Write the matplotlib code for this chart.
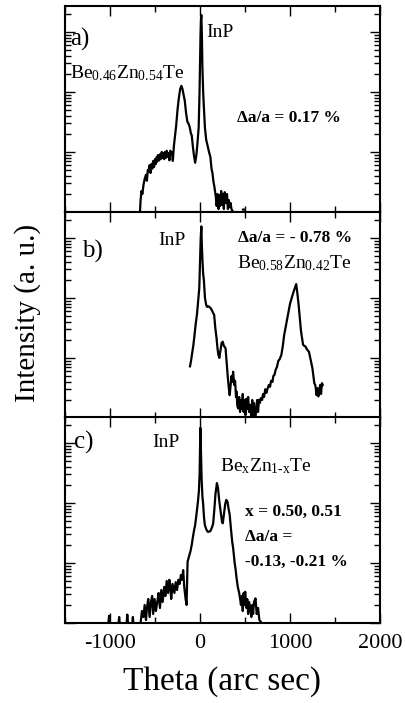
"""
plot.py
-------
Triple-axis X-ray rocking curves of BeZnTe layers on InP (log intensity).
"""

import numpy as np
import matplotlib
matplotlib.use("Agg")
import matplotlib.pyplot as plt
from matplotlib.ticker import LogLocator, MultipleLocator, NullFormatter

plt.rcParams["font.family"] = ["Liberation Serif", "DejaVu Serif"]
plt.rcParams["mathtext.fontset"] = "custom"
plt.rcParams["mathtext.rm"] = "Liberation Serif"
plt.rcParams["mathtext.it"] = "Liberation Serif"
plt.rcParams["axes.unicode_minus"] = False

# ---- panel a) : Be0.46Zn0.54Te ----
a_theta = [-667, -660, -650, -640, -628, -615, -600, -590, -580, -571, -560, -550,
           -540, -530, -520, -510, -500, -490, -480, -475, -465, -455, -445, -435,
           -425, -415, -405, -398, -390, -380, -370, -360, -350, -340, -330, -322,
           -312, -302, -290, -275, -264, -250, -235, -220, -207, -195, -182, -169,
           -155, -140, -130, -115, -100, -92, -80, -68, -54, -40, -28, -15, -5, 5,
           10, 15, 20, 27, 35, 43, 55, 69, 85, 100, 115, 128, 138, 150, 160, 176,
           185, 195, 205, 215, 225, 235, 245, 255, 265, 275, 291, 300, 310, 320,
           330, 340, 349, 360, 368, np.nan, 478, 488]
a_logI = [0.0, 0.2, 0.35, 0.3, 0.45, 0.55, 0.62, 0.52, 0.7, 0.68, 0.78, 0.65,
          0.8, 0.72, 0.85, 0.75, 0.88, 0.8, 0.92, 0.84, 0.95, 0.86, 0.96, 0.88,
          1.0, 0.9, 0.98, 0.88, 1.0, 0.9, 1.02, 0.92, 0.98, 0.86, 1.02, 0.95,
          1.0, 0.85, 1.1, 1.3, 1.45, 1.7, 1.9, 2.05, 2.1, 2.05, 1.95, 1.85,
          1.65, 1.5, 1.48, 1.42, 1.3, 1.28, 1.1, 0.95, 0.82, 0.95, 1.15, 1.4, 2.0, 2.9,
          3.2, 3.28, 3.0, 2.4, 2.0, 1.75, 1.4, 1.2, 1.1, 1.0, 0.92, 0.72, 0.65, 0.5, 0.42, 0.25,
          0.1, 0.3, 0.05, 0.28, 0.1, 0.35, 0.12, 0.3, 0.05, 0.33, 0.15, 0.3, 0.05, 0.2,
          0.08, 0.15, 0.05, 0.02, 0.0, np.nan, 0.04, 0.04]

# ---- panel b) : Be0.58Zn0.42Te ----
b_theta = [-111, -100, -90, -73, -60, -45, -34, -20, -8, 0, 8, 15, 20, 28, 35, 43,
           55, 69, 80, 95, 110, 118, 130, 145, 157, 170, 184, 195, 205, 215, 225,
           240, 253, 265, 276, 284, 292, 300, 310, 320, 330, 340, 350, 360, 368,
           380, 390, 400, 406, 415, 425, 435, 445, 455, 465, 475, 485, 495, 505,
           515, 525, 535, 545, 560, 570, 580, 590, 600, 610, 617, 625, 635, 645,
           655, 665, 675, 690, 700, 712, 725, 738, 751, 765, 778, 790, 805, 815,
           828, 840, 855, 870, 885, 904, 920, 935, 950, 962, 980, 1000, 1019, 1035,
           1050, 1062, 1069, 1080, 1096, 1110, 1122, 1134, 1145, 1160, 1172, 1185,
           1200, 1211, 1225, 1238, 1249, 1260, 1270, 1280, 1287, 1295, 1305, 1315,
           1326, 1335, 1345, 1355, 1364]
b_logI = [0.86, 0.95, 1.05, 1.22, 1.4, 1.6, 1.72, 1.95, 2.16, 2.6, 3.0, 3.19, 2.9, 2.6, 2.4, 2.3,
          2.0, 1.88, 1.85, 1.86, 1.84, 1.83, 1.8, 1.75, 1.72, 1.5, 1.33, 1.15, 1.05, 1.0, 1.1,
          1.25, 1.27, 1.2, 1.18, 1.16, 1.0, 0.85, 0.66, 0.5, 0.38, 0.55, 0.7, 0.6, 0.77,
          0.55, 0.62, 0.35, 0.44, 0.2, 0.16, 0.35, 0.1, 0.3, 0.15, 0.4, 0.1, 0.3, 0.05,
          0.32, 0.15, 0.35, 0.1, 0.22, 0.0, 0.3, 0.05, 0.25, 0.0, 0.02, 0.15, 0.3, 0.1,
          0.3, 0.25, 0.33, 0.3, 0.4, 0.35, 0.48, 0.42, 0.49, 0.55, 0.52, 0.62, 0.6, 0.7,
          0.72, 0.8, 0.85, 0.95, 0.98, 1.05, 1.2, 1.38, 1.5, 1.6, 1.75, 1.9, 2.0, 2.08,
          2.15, 2.2, 2.23, 2.1, 1.88, 1.65, 1.45, 1.33, 1.22, 1.2, 1.19, 1.15,
          1.12, 1.1, 1.0, 0.9, 0.83, 0.7, 0.58, 0.55, 0.49, 0.38, 0.5, 0.36,
          0.42, 0.55, 0.4, 0.58, 0.55]

# ---- panel c) : BexZn1-xTe, x = 0.50, 0.51 ----
c_theta = [-1018, -1010, -1003, np.nan, -905, -898, -892, np.nan, -815, -808, -800,
           np.nan, -752, -746, -740, np.nan,
           -660, -645, -628, -615, -600, -590, -575, -560, -545, -532, -520, -505,
           -490, -475, -460, -445, -430, -415, -398, -385, -370, -355, -341, -330,
           -320, -305, -284, -270, -255, -240, -226, -212, -200, -187, -175, -160,
           -149, -143, -138, -120, -105, -92, -80, -65, -54, -40, -23, -12, -4, 4,
           10, 18, 27, 34, 45, 54, 70, 85, 100, 115, 130, 146, 160, 172, 188, 200,
           215, 230, 245, 253, 265, 280, 292, 305, 318, 330, 345, 358, 368, 385,
           395, 406, 420, 435, 445, 455, 465, 475, 485, 495, 502, 515, 525, 535,
           545, 560, 570, 580, 590, 600, 617, 630, 645, 660, 675]
c_logI = [0.0, 0.12, 0.0, np.nan, 0.0, 0.1, 0.0, np.nan, 0.0, 0.14, 0.0,
          np.nan, 0.0, 0.1, 0.0, np.nan,
          0.0, 0.2, 0.1, 0.3, 0.05, 0.25, 0.4, 0.1, 0.35, 0.45, 0.15, 0.4,
          0.2, 0.35, 0.5, 0.25, 0.55, 0.35, 0.6, 0.45, 0.7, 0.5, 0.72, 0.6,
          0.4, 0.65, 0.5, 0.68, 0.55, 0.72, 0.65, 0.8, 0.72, 0.88, 0.6, 0.4,
          0.3, 0.7, 1.02, 1.12, 1.2, 1.3, 1.42, 1.55, 1.63, 1.8, 2.02, 2.2, 2.5, 3.25,
          2.9, 2.4, 2.1, 2.0, 1.75, 1.63, 1.56, 1.52, 1.52, 1.53, 1.58, 1.65, 1.9, 2.15, 2.33, 2.25,
          2.02, 1.85, 1.68, 1.66, 1.8, 1.98, 2.05, 2.02, 1.9, 1.8, 1.55, 1.35, 1.25, 1.0,
          0.9, 0.75, 0.6, 0.5, 0.41, 0.3, 0.45, 0.2, 0.5, 0.3, 0.52, 0.25, 0.4, 0.15,
          0.35, 0.25, 0.1, 0.3, 0.15, 0.35, 0.41, 0.15, 0.25, 0.05, 0.02]

panel_tags = ["a)", "b)", "c)"]
x_ticks = [-1000, 0, 1000, 2000]


def style_axis(ax):
    ax.set_yscale("log")
    ax.set_ylim(1, 10 ** 3.43)
    ax.set_xlim(-1500, 2000)
    ax.yaxis.set_major_locator(LogLocator(base=10, numticks=50))
    ax.yaxis.set_minor_locator(LogLocator(base=10, subs=np.arange(2, 10) * 1.0, numticks=50))
    ax.yaxis.set_major_formatter(NullFormatter())
    ax.yaxis.set_minor_formatter(NullFormatter())
    ax.xaxis.set_minor_locator(MultipleLocator(500))
    ax.set_xticks(x_ticks)
    ax.tick_params(which="both", direction="in", top=True, right=True, width=1.0)
    ax.tick_params(which="major", length=7)
    ax.tick_params(which="minor", length=4)
    ax.tick_params(axis="x", labelsize=16, pad=8)
    for s in ax.spines.values():
        s.set_linewidth(1.5)


fig = plt.figure(figsize=(4.06, 7.03), dpi=100)
left, width = 65 / 406, 315 / 406
bounds = [212, 418, 623]
axes = []
for b in bounds:
    axes.append(fig.add_axes([left, 1 - b / 703, width, 206 / 703]))

data = [(a_theta, a_logI), (b_theta, b_logI), (c_theta, c_logI)]
for ax, (th, lg) in zip(axes, data):
    ax.plot(th, 10 ** np.array(lg, dtype=float), color="black", linewidth=1.6)
    style_axis(ax)

for ax in axes[:2]:
    ax.tick_params(axis="x", labelbottom=False)

ax_a, ax_b, ax_c = axes

# panel a)
ax_a.text(0.016, 0.84, panel_tags[0], transform=ax_a.transAxes, fontsize=18, va="center")
ax_a.text(0.45, 0.87, "InP", transform=ax_a.transAxes, fontsize=14, va="center")
ax_a.text(0.016, 0.65, r"Be$_{0.46}$Zn$_{0.54}$Te", transform=ax_a.transAxes,
          fontsize=14, va="baseline")
ax_a.text(0.546, 0.456, "Δa/a = 0.17 %", transform=ax_a.transAxes, fontsize=12.5,
          fontweight="bold", va="center")

# panel b)
ax_b.text(0.054, 0.81, panel_tags[1], transform=ax_b.transAxes, fontsize=18, va="center")
ax_b.text(0.295, 0.86, "InP", transform=ax_b.transAxes, fontsize=14, va="center")
ax_b.text(0.549, 0.876, "Δa/a = - 0.78 %", transform=ax_b.transAxes, fontsize=12.5,
          fontweight="bold", va="center")
ax_b.text(0.546, 0.728, r"Be$_{0.58}$Zn$_{0.42}$Te", transform=ax_b.transAxes,
          fontsize=14, va="baseline")

# panel c)
ax_c.text(0.03, 0.875, panel_tags[2], transform=ax_c.transAxes, fontsize=18, va="center")
ax_c.text(0.278, 0.875, "InP", transform=ax_c.transAxes, fontsize=14, va="center")
ax_c.text(0.492, 0.735, r"Be$_{\mathrm{x}}$Zn$_{\mathrm{1\text{-}x}}$Te",
          transform=ax_c.transAxes, fontsize=14, va="baseline")
for txt, yf in [("x = 0.50, 0.51", 0.539), ("Δa/a =", 0.417), ("-0.13, -0.21 %", 0.296)]:
    ax_c.text(0.571, yf, txt, transform=ax_c.transAxes, fontsize=12.5,
              fontweight="bold", va="center")

fig.text(0.067, 0.555, "Intensity (a. u.)", rotation=90, fontsize=21,
         ha="center", va="center")
fig.text(0.547, 0.031, "Theta (arc sec)", fontsize=24, ha="center", va="center")

plt.savefig("out.png", dpi=100)
plt.close()
